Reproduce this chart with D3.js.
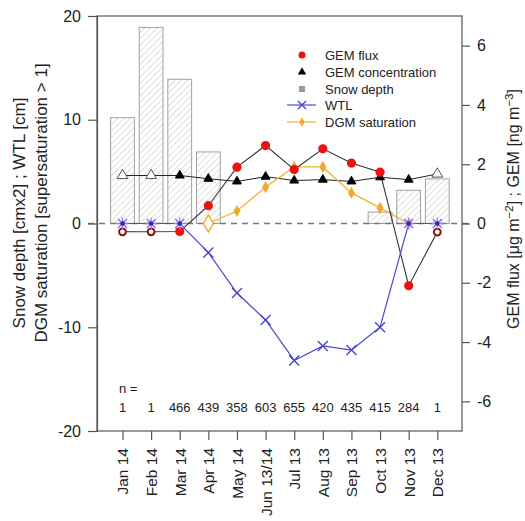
<!DOCTYPE html>
<html><head><meta charset="utf-8">
<script src="https://cdn.jsdelivr.net/npm/d3@7"></script>
<style>body{margin:0;background:#fff}</style></head>
<body><svg id="c" width="525" height="521"></svg>
<script>
const months=["Jan 14","Feb 14","Mar 14","Apr 14","May 14","Jun 13/14","Jul 13","Aug 13","Sep 13","Oct 13","Nov 13","Dec 13"];
const nCounts=[1,1,466,439,358,603,655,420,435,415,284,1];
const snowDepth=[10.2,18.9,13.9,6.9,null,null,null,null,null,1.1,3.2,4.3];
const gemFlux=[-0.28,-0.28,-0.27,0.6,1.9,2.63,1.82,2.52,2.04,1.73,-2.1,-0.29];
const gemConc=[1.62,1.62,1.62,1.51,1.42,1.58,1.45,1.48,1.42,1.56,1.48,1.67];
const wtl=[0,0,0,-2.8,-6.7,-9.3,-13.2,-11.8,-12.2,-10.0,0,0];
const dgm=[null,null,null,0,1.2,3.5,5.45,5.45,2.95,1.5,0,null];
const leftTicks=[-20,-10,0,10,20];
const rightTicks=[-6,-4,-2,0,2,4,6];
const legendLabels=["GEM flux","GEM concentration","Snow depth","WTL","DGM saturation"];

const F="Liberation Sans, Arial, Helvetica, sans-serif";
const svg=d3.select("#c");
const L=97,R=462,T=16,B=431;
const x=d3.scalePoint().domain(months).range([122.5,437.3]);
const yL=d3.scaleLinear().domain([-20,20]).range([B,T]);
const yR=d3.scaleLinear().domain([-7,7]).range([B,T]);
const bw=23.8;
const fmt=d=>(d<0?"-":"")+Math.abs(d);

// hatch pattern
const defs=svg.append("defs");
const pat=defs.append("pattern").attr("id","hatch").attr("patternUnits","userSpaceOnUse")
  .attr("width",4.5).attr("height",4.5).attr("patternTransform","rotate(45)");
pat.append("rect").attr("width",4.5).attr("height",4.5).attr("fill","#fff");
pat.append("line").attr("x1",0).attr("y1",0).attr("x2",0).attr("y2",4.5).attr("stroke","#b8b8b8").attr("stroke-width",0.9);

// bars
svg.append("g").selectAll("rect").data(months.map((m,i)=>({m,v:snowDepth[i]})).filter(d=>d.v!=null))
 .join("rect").attr("x",d=>x(d.m)-bw/2).attr("width",bw)
 .attr("y",d=>yL(d.v)).attr("height",d=>yL(0)-yL(d.v))
 .attr("fill","url(#hatch)").attr("stroke","#a0a0a0").attr("stroke-width",1);

// zero dashed line
svg.append("line").attr("x1",88).attr("x2",470).attr("y1",yL(0)).attr("y2",yL(0))
 .attr("stroke","#777").attr("stroke-width",1.6).attr("stroke-dasharray","6,5");

// box
svg.append("rect").attr("x",L).attr("y",T).attr("width",R-L).attr("height",B-T)
 .attr("fill","none").attr("stroke","#555").attr("stroke-width",1.2);

// left axis
const ga=svg.append("g").attr("transform",`translate(${L},0)`)
 .call(d3.axisLeft(yL).tickValues(leftTicks).tickSize(9).tickPadding(7).tickFormat(fmt));
ga.select(".domain").attr("stroke","#555").attr("stroke-width",1.2);
ga.selectAll(".tick line").attr("stroke","#555").attr("stroke-width",1.2);
ga.selectAll("text").attr("font-family",F).attr("font-size",16).attr("fill","#222");

// right axis
const gr=svg.append("g").attr("transform",`translate(${R},0)`)
 .call(d3.axisRight(yR).tickValues(rightTicks).tickSize(8).tickPadding(7).tickFormat(fmt));
gr.select(".domain").remove();
gr.selectAll(".tick line").attr("stroke","#555").attr("stroke-width",1.2);
gr.selectAll("text").attr("font-family",F).attr("font-size",16).attr("fill","#222");

// bottom axis
const gb=svg.append("g").attr("transform",`translate(0,${B})`)
 .call(d3.axisBottom(x).tickSize(9).tickPadding(0));
gb.select(".domain").remove();
gb.selectAll(".tick line").attr("stroke","#555").attr("stroke-width",1.2);
gb.selectAll("text").attr("font-family",F).attr("font-size",15.5).attr("fill","#222")
 .attr("transform","rotate(-90)").attr("text-anchor","end").attr("dy","0.35em").attr("x",-17).attr("y",0);

// n row
svg.append("text").attr("x",119).attr("y",393).attr("font-family",F).attr("font-size",13).attr("fill","#222").text("n =");
svg.append("g").selectAll("text").data(months).join("text")
 .attr("x",d=>x(d)).attr("y",412).attr("text-anchor","middle").attr("font-family",F).attr("font-size",13).attr("fill","#222")
 .text((d,i)=>nCounts[i]);

// axis titles
svg.append("text").attr("transform","translate(25,213) rotate(-90)").attr("text-anchor","middle")
 .attr("font-family",F).attr("font-size",17).attr("fill","#222").text("Snow depth [cmx2] ; WTL [cm]");
svg.append("text").attr("transform","translate(47,203) rotate(-90)").attr("text-anchor","middle")
 .attr("font-family",F).attr("font-size",17).attr("fill","#222").text("DGM saturation [supersaturation > 1]");
const rt=svg.append("text").attr("transform","translate(519,209) rotate(-90)").attr("text-anchor","middle")
 .attr("font-family",F).attr("font-size",16).attr("fill","#222");
rt.append("tspan").text("GEM flux [\u03bcg m");
rt.append("tspan").attr("baseline-shift","super").attr("font-size",11.5).text("\u22122");
rt.append("tspan").text("] ; GEM [ng m");
rt.append("tspan").attr("baseline-shift","super").attr("font-size",11.5).text("\u22123");
rt.append("tspan").text("]");

// lines
const pts=(arr,ys)=>months.map((m,i)=>({m,i,v:arr[i]})).filter(d=>d.v!=null).map(d=>({...d,px:x(d.m),py:ys(d.v)}));
const line=d3.line().x(d=>d.px).y(d=>d.py);
const pConc=pts(gemConc,yR), pFlux=pts(gemFlux,yR), pW=pts(wtl,yL), pD=pts(dgm,yL);

svg.append("path").attr("d",line(pConc)).attr("fill","none").attr("stroke","#222").attr("stroke-width",1);
svg.append("path").attr("d",line(pD)).attr("fill","none").attr("stroke","#f2b23a").attr("stroke-width",1.3);
svg.append("path").attr("d",line(pFlux)).attr("fill","none").attr("stroke","#333").attr("stroke-width",1.1);
svg.append("path").attr("d",line(pW)).attr("fill","none").attr("stroke","#4a4ad0").attr("stroke-width",1.2);

// DGM markers
const dia=d3.symbol().type(d3.symbolDiamond);
svg.append("g").selectAll("path").data(pD).join("path")
 .attr("transform",d=>`translate(${d.px},${d.py})`)
 .attr("d",d=>d.i===3?dia.size(85)():dia.size(36)())
 .attr("fill",d=>d.i===3?"#fff":"#f0a830").attr("stroke","#f0a830").attr("stroke-width",d=>d.i===3?1.4:0.5);

// GEM conc triangles
const tri=d3.symbol().type(d3.symbolTriangle);
svg.append("g").selectAll("path").data(pConc).join("path")
 .attr("transform",d=>`translate(${d.px},${d.py})`)
 .attr("d",d=>nCounts[d.i]===1?tri.size(50)():tri.size(34)())
 .attr("fill",d=>nCounts[d.i]===1?"#fff":"#000").attr("stroke",d=>nCounts[d.i]===1?"#555":"#000").attr("stroke-width",1);

// GEM flux circles
svg.append("g").selectAll("circle").data(pFlux).join("circle")
 .attr("cx",d=>d.px).attr("cy",d=>d.py)
 .attr("r",d=>nCounts[d.i]===1?3.4:4.6)
 .attr("fill",d=>nCounts[d.i]===1?"#fff":"#ee1111")
 .attr("stroke",d=>nCounts[d.i]===1?"#8b1010":"none").attr("stroke-width",2);

// WTL markers
const gw=svg.append("g");
pW.forEach(d=>{
  const s=5;
  const g=gw.append("g").attr("transform",`translate(${d.px},${d.py})`);
  if(d.v===0){
    g.append("path").attr("d",`M0,${-6}V6M-6,0H6`).attr("stroke","#b07ad8").attr("stroke-width",1.3);
    g.append("path").attr("d",`M-4.5,-4.5L4.5,4.5M-4.5,4.5L4.5,-4.5`).attr("stroke","#8a6ad8").attr("stroke-width",1.3);
    g.append("circle").attr("r",2.2).attr("fill","#2424e0");
  } else {
    g.append("path").attr("d",`M${-s},${-s}L${s},${s}M${-s},${s}L${s},${-s}`).attr("stroke","#4040cc").attr("stroke-width",1.3);
  }
});

// legend
const lg=svg.append("g");
const lx=302, ly=[55,72,89,105,122];
lg.append("circle").attr("cx",lx).attr("cy",ly[0]).attr("r",3.5).attr("fill","#ee1111");
lg.append("path").attr("transform",`translate(${lx},${ly[1]})`).attr("d",tri.size(30)()).attr("fill","#000");
lg.append("rect").attr("x",lx-3).attr("y",ly[2]-3).attr("width",6).attr("height",6).attr("fill","#999");
lg.append("line").attr("x1",lx-15).attr("x2",lx+14).attr("y1",ly[3]).attr("y2",ly[3]).attr("stroke","#4a4ad0").attr("stroke-width",1.2);
lg.append("path").attr("d",`M${lx-4},${ly[3]-4}L${lx+4},${ly[3]+4}M${lx-4},${ly[3]+4}L${lx+4},${ly[3]-4}`).attr("stroke","#4040cc").attr("stroke-width",1.3);
lg.append("line").attr("x1",lx-15).attr("x2",lx+14).attr("y1",ly[4]).attr("y2",ly[4]).attr("stroke","#f2b23a").attr("stroke-width",1.2);
lg.append("path").attr("transform",`translate(${lx},${ly[4]})`).attr("d",dia.size(25)()).attr("fill","#f0a830");
lg.selectAll("text").data(legendLabels).join("text")
 .attr("x",325).attr("y",(d,i)=>ly[i]+4.5).attr("font-family",F).attr("font-size",13).attr("fill","#222").text(d=>d);
</script></body></html>
